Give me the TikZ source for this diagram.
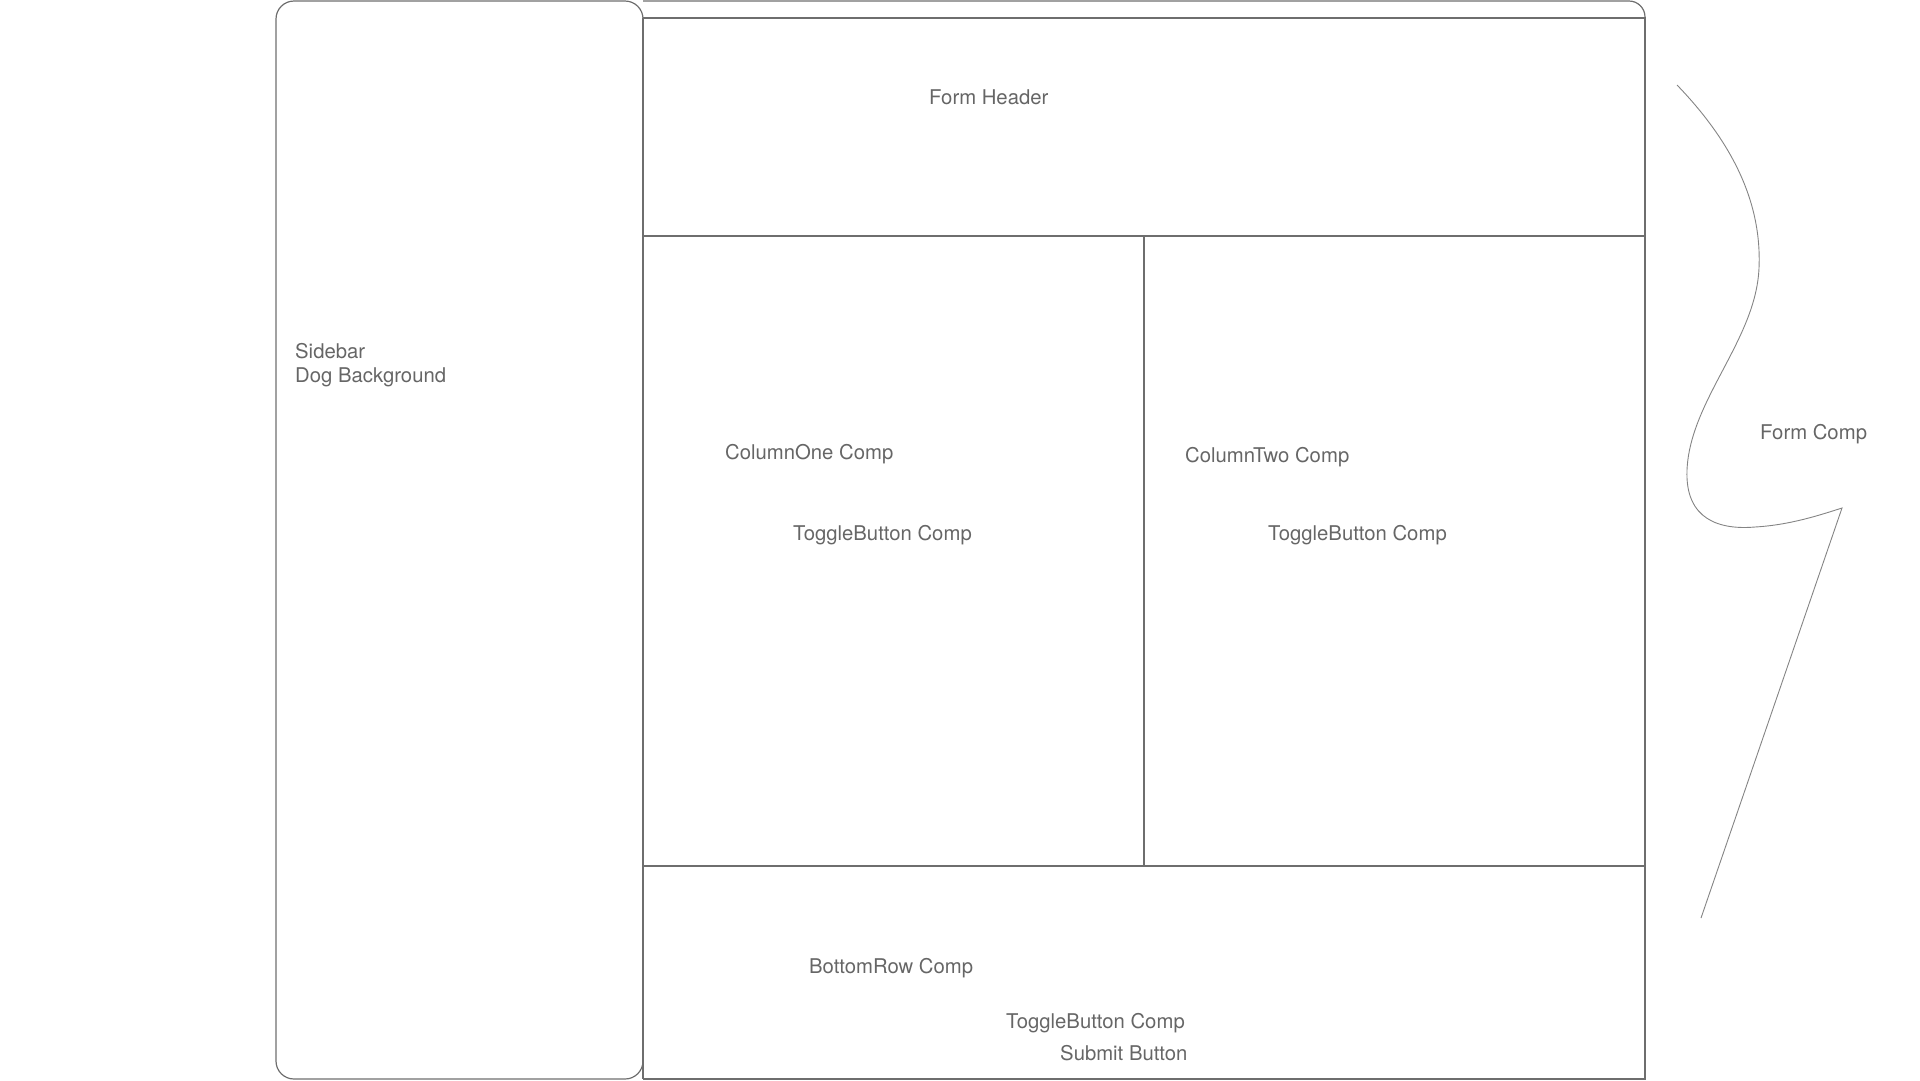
\documentclass[tikz,border=0pt]{standalone}
\usepackage{fontspec}
\setmainfont{TeX Gyre Heros}

\definecolor{wire}{HTML}{6E6E6E}
\definecolor{labelgray}{HTML}{666666}

\tikzset{
  frame/.style={draw=wire, line width=1.2pt},
  divider/.style={draw=wire, line width=2pt},
  bracecurve/.style={draw=wire!85, line width=0.9pt},
  lbl/.style={anchor=base west, inner sep=0pt, text=labelgray,
    font=\fontsize{20.3}{24}\selectfont},
}

\begin{document}
\begin{tikzpicture}[x=1pt, y=-1pt]
  \useasboundingbox (0,0) rectangle (1920,1080);

  % sidebar and form outline
  \draw[frame, rounded corners=18pt] (276,1) rectangle (643,1079);
  \draw[frame] (643,1) -- (1629,1) arc[start angle=-90, end angle=0, radius=16];
  \draw[divider] (1645,17) -- (1645,1079) -- (643,1079);
  \draw[divider] (643,18) -- (643,1079);

  % rows and columns
  \draw[divider] (643,18) -- (1645,18);
  \draw[divider] (643,236) -- (1645,236);
  \draw[divider] (643,866) -- (1645,866);
  \draw[divider] (1144,236) -- (1144,866);

  \node[lbl] (header) at (929,104) {Form Header};
  \node[lbl] (sidebar) at (295,358) {Sidebar};
  \node[lbl] (dogbg) at (295,382) {Dog Background};

  \node[lbl] (colone) at (725,459) {ColumnOne Comp};
  \node[lbl] (toggleone) at (793,540) {ToggleButton Comp};
  \node[lbl] (coltwo) at (1185,462) {ColumnTwo Comp};
  \node[lbl] (toggletwo) at (1268,540) {ToggleButton Comp};

  \node[lbl] (bottomrow) at (809,973) {BottomRow Comp};
  \node[lbl] (togglebottom) at (1006,1028) {ToggleButton Comp};
  \node[lbl] (submit) at (1060,1060) {Submit Button};

  % brace around the form
  \draw[bracecurve] (1677,85) .. controls (1730,140) and (1762,200) .. (1759,268)
    .. controls (1756,340) and (1690,400) .. (1687,470)
    .. controls (1685,520) and (1720,530) .. (1755,527)
    .. controls (1790,525) and (1820,515) .. (1842,508) -- (1701,918);
  \node[lbl] (formcomp) at (1760,439) {Form Comp};
\end{tikzpicture}
\end{document}
